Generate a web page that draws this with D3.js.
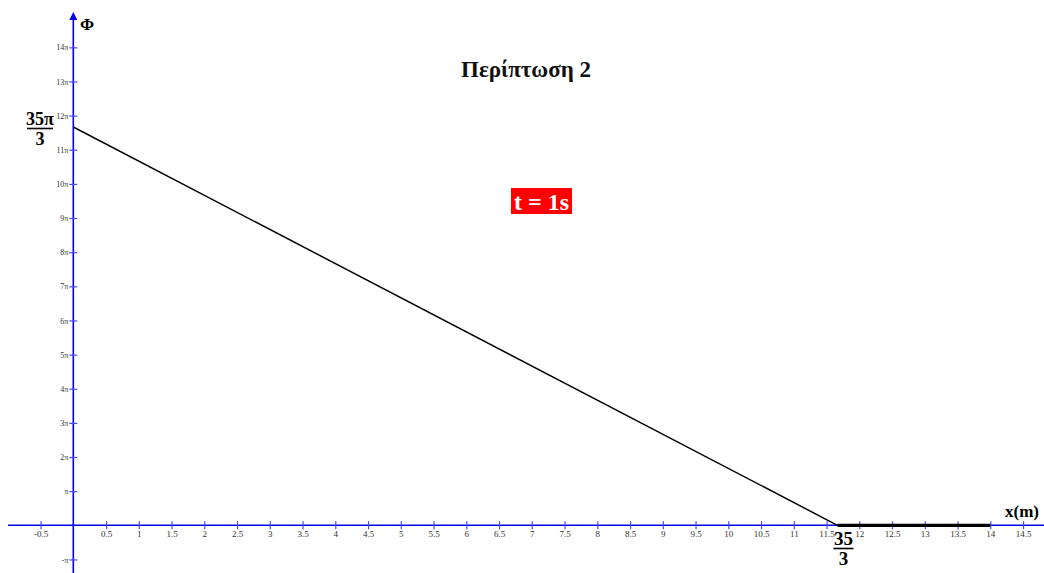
<!DOCTYPE html>
<html>
<head>
<meta charset="utf-8">
<script src="https://cdn.jsdelivr.net/npm/d3@7"></script>
<style>
  html, body { margin: 0; padding: 0; background: #fff; }
  svg { display: block; }
  text { font-family: "Liberation Serif", "Times New Roman", serif; }
</style>
</head>
<body>
<svg id="chart" width="1044" height="573"></svg>
<script>
// Phase Φ (in multiples of π) along the string at t = 1 s
const slopeX = [0, 35 / 3];          // x (m)
const slopePhi = [35 / 3, 0];        // Φ / π
const flatX = [35 / 3, 14];          // x (m)
const flatPhi = [0, 0];              // Φ / π

const xTicks = d3.range(-0.5, 14.51, 0.5).filter(v => Math.abs(v) > 1e-9);
const yTicks = d3.range(-1, 14.01, 1).filter(v => v !== 0);

const title = "Περίπτωση 2";
const timeLabel = "t = 1s";

const svg = d3.select("#chart");
const W = 1044, H = 573;

// Scales: origin at (73.3, 525.3)
const x = d3.scaleLinear().domain([0, 14]).range([73.3, 73.3 + 14 * 65.5]);
const y = d3.scaleLinear().domain([0, 14]).range([525.3, 525.3 - 14 * 34.14]);

const fmtX = v => String(v);
const fmtY = v => v === 1 ? "π" : v === -1 ? "-π" : v + "π";

// x axis
const xAxisG = svg.append("g").attr("transform", `translate(0,${y(0)})`);
xAxisG.append("line").attr("x1", 8).attr("x2", W).attr("y1", 0).attr("y2", 0)
  .attr("stroke", "#0000ee").attr("stroke-width", 1.6);
const xAxis = d3.axisBottom(x).tickValues(xTicks).tickFormat(fmtX)
  .tickSizeInner(4).tickSizeOuter(0).tickPadding(6);
const xa = xAxisG.append("g").call(xAxis);
xa.select(".domain").remove();
xa.selectAll(".tick line").attr("y1", -4).attr("y2", 4).attr("stroke", "#4a4af5").attr("stroke-width", 1.2);
xa.selectAll(".tick text").attr("font-family", "Liberation Serif, serif").attr("font-size", 9)
  .attr("fill", "#333").attr("dy", "0.2em");

// y axis
const yAxisG = svg.append("g").attr("transform", `translate(${x(0)},0)`);
yAxisG.append("line").attr("x1", 0).attr("x2", 0).attr("y1", 16).attr("y2", H)
  .attr("stroke", "#0000ee").attr("stroke-width", 1.6);
yAxisG.append("path").attr("d", "M0,12 L-4,20 L4,20 Z").attr("fill", "#0000ee");
const yAxis = d3.axisLeft(y).tickValues(yTicks).tickFormat(fmtY)
  .tickSizeInner(4).tickSizeOuter(0).tickPadding(1);
const ya = yAxisG.append("g").call(yAxis);
ya.select(".domain").remove();
ya.selectAll(".tick line").attr("x1", -4).attr("x2", 4).attr("stroke", "#4a4af5").attr("stroke-width", 1.2);
ya.selectAll(".tick text").attr("font-family", "Liberation Serif, serif").attr("font-size", 8)
  .attr("fill", "#333");

// Φ(x) graph
const line = d3.line().x(d => x(d[0])).y(d => y(d[1]));
svg.append("path").datum(d3.zip(slopeX, slopePhi)).attr("d", line)
  .attr("fill", "none").attr("stroke", "#000").attr("stroke-width", 1.5);
svg.append("path").datum(d3.zip(flatX, flatPhi)).attr("d", line)
  .attr("fill", "none").attr("stroke", "#000").attr("stroke-width", 3.2);

// Axis titles
svg.append("text").attr("x", 80).attr("y", 30).attr("font-size", 17).attr("font-weight", "bold").text("Φ");
svg.append("text").attr("x", 1005).attr("y", 517).attr("font-size", 17).attr("font-weight", "bold").text("x(m)");

// Fraction labels
function fraction(cx, top, num, den, fs, barHalf) {
  const g = svg.append("g");
  g.append("text").attr("x", cx).attr("y", top + 16).attr("text-anchor", "middle")
    .attr("font-size", fs).attr("font-weight", "bold").text(num);
  g.append("line").attr("x1", cx - barHalf).attr("x2", cx + barHalf)
    .attr("y1", top + 19.5).attr("y2", top + 19.5).attr("stroke", "#000").attr("stroke-width", 1.6);
  g.append("text").attr("x", cx).attr("y", top + 36).attr("text-anchor", "middle")
    .attr("font-size", fs).attr("font-weight", "bold").text(den);
}
fraction(40, 109, "35π", "3", 18, 13);
fraction(x(35 / 3) + 6, 529, "35", "3", 19, 10);

// Title
svg.append("text").attr("x", 526).attr("y", 77).attr("text-anchor", "middle")
  .attr("font-size", 23).attr("font-weight", "bold").attr("fill", "#111").text(title);

// Time badge
svg.append("rect").attr("x", 511).attr("y", 188).attr("width", 61).attr("height", 26).attr("fill", "#ff0000");
svg.append("text").attr("x", 541.5).attr("y", 210).attr("text-anchor", "middle")
  .attr("font-size", 24).attr("font-weight", "bold").attr("fill", "#fff").text(timeLabel);
</script>
</body>
</html>
